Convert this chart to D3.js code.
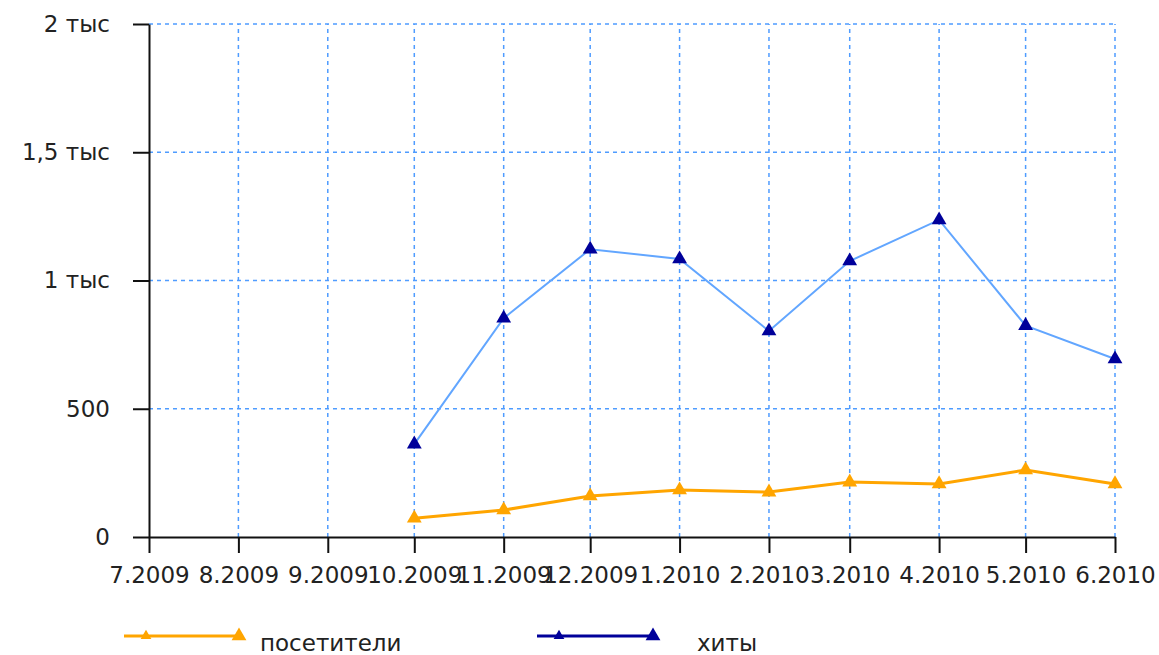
<!DOCTYPE html>
<html><head><meta charset="utf-8">
<script src="https://cdn.jsdelivr.net/npm/d3@7"></script>
<style>body{margin:0;background:#fff}svg{display:block}text{font-family:"DejaVu Sans",sans-serif;fill:#222}</style>
</head><body>
<script>
const months = ["2009-07","2009-08","2009-09","2009-10","2009-11","2009-12","2010-01","2010-02","2010-03","2010-04","2010-05","2010-06"];
const tickLabels = ["7.2009","8.2009","9.2009","10.2009","11.2009","12.2009","1.2010","2.2010","3.2010","4.2010","5.2010","6.2010"];
const visitors = [null,null,null,73,105,160,183,175,214,207,261,207];
const hits = [null,null,null,362,853,1122,1084,803,1076,1236,824,694];
const yTicks = [0,500,1000,1500,2000];
const yTickLabels = ["0","500","1 тыс","1,5 тыс","2 тыс"];
const seriesNames = ["посетители","хиты"];

const W=1159,H=655;
const svg=d3.select("body").append("svg").attr("width",W).attr("height",H);
const parse=d3.timeParse("%Y-%m");
const dates=months.map(parse);
const x=d3.scaleTime().domain([dates[0],dates[dates.length-1]]).range([149,1115]);
const y=d3.scaleLinear().domain([0,2000]).range([537,24]);

// grid
const grid=svg.append("g").attr("stroke","#4f9cff").attr("stroke-width",1.5).attr("stroke-dasharray","4,4");
grid.selectAll("line.h").data(yTicks.slice(1)).join("line").attr("class","h")
  .attr("x1",x.range()[0]).attr("x2",x.range()[1]).attr("y1",d=>y(d)).attr("y2",d=>y(d));
grid.selectAll("line.v").data(dates.slice(1)).join("line").attr("class","v")
  .attr("x1",d=>x(d)).attr("x2",d=>x(d)).attr("y1",y(0)).attr("y2",y(2000));

// axes
const xa=svg.append("g").attr("transform",`translate(0,${y(0)})`)
  .call(d3.axisBottom(x).tickValues(dates).tickFormat((d,i)=>tickLabels[i]).tickSize(16).tickPadding(14).tickSizeOuter(0));
const ya=svg.append("g").attr("transform",`translate(${x.range()[0]},0)`)
  .call(d3.axisLeft(y).tickValues(yTicks).tickFormat((d,i)=>yTickLabels[i]).tickSize(16).tickPadding(23).tickSizeOuter(0));
[xa,ya].forEach(a=>{
  a.selectAll("path,line").attr("stroke","#111").attr("stroke-width",2);
  a.selectAll("text").attr("font-size",23).attr("fill","#222").attr("font-family","DejaVu Sans");
});

const tri=d3.symbol().type(d3.symbolTriangle).size(95);
function drawSeries(vals,lineColor,lineW,markColor){
  const pts=vals.map((v,i)=>({d:dates[i],v})).filter(p=>p.v!=null);
  svg.append("path").datum(pts).attr("fill","none").attr("stroke",lineColor).attr("stroke-width",lineW)
    .attr("d",d3.line().x(p=>x(p.d)).y(p=>y(p.v)));
  svg.append("g").selectAll("path").data(pts).join("path")
    .attr("transform",p=>`translate(${x(p.d)},${y(p.v)})`).attr("d",tri).attr("fill",markColor);
}
drawSeries(visitors,"#ffa500",3,"#ffa500");
drawSeries(hits,"#62a6ff",2,"#00009a");

// legend
const leg=[{name:seriesNames[0],c:"#ffa500",x0:124,x1:243,tx:260},{name:seriesNames[1],c:"#00009a",x0:537,x1:657,tx:697}];
const lg=svg.append("g");
leg.forEach(l=>{
  lg.append("line").attr("x1",l.x0).attr("x2",l.x1).attr("y1",636).attr("y2",636).attr("stroke",l.c).attr("stroke-width",3);
  lg.append("path").attr("transform",`translate(${l.x0+22},636)`).attr("d",d3.symbol().type(d3.symbolTriangle).size(50)).attr("fill",l.c);
  lg.append("path").attr("transform",`translate(${l.x1-4},636)`).attr("d",tri).attr("fill",l.c);
  lg.append("text").attr("x",l.tx).attr("y",651).attr("font-size",23).text(l.name);
});
</script>
</body></html>
